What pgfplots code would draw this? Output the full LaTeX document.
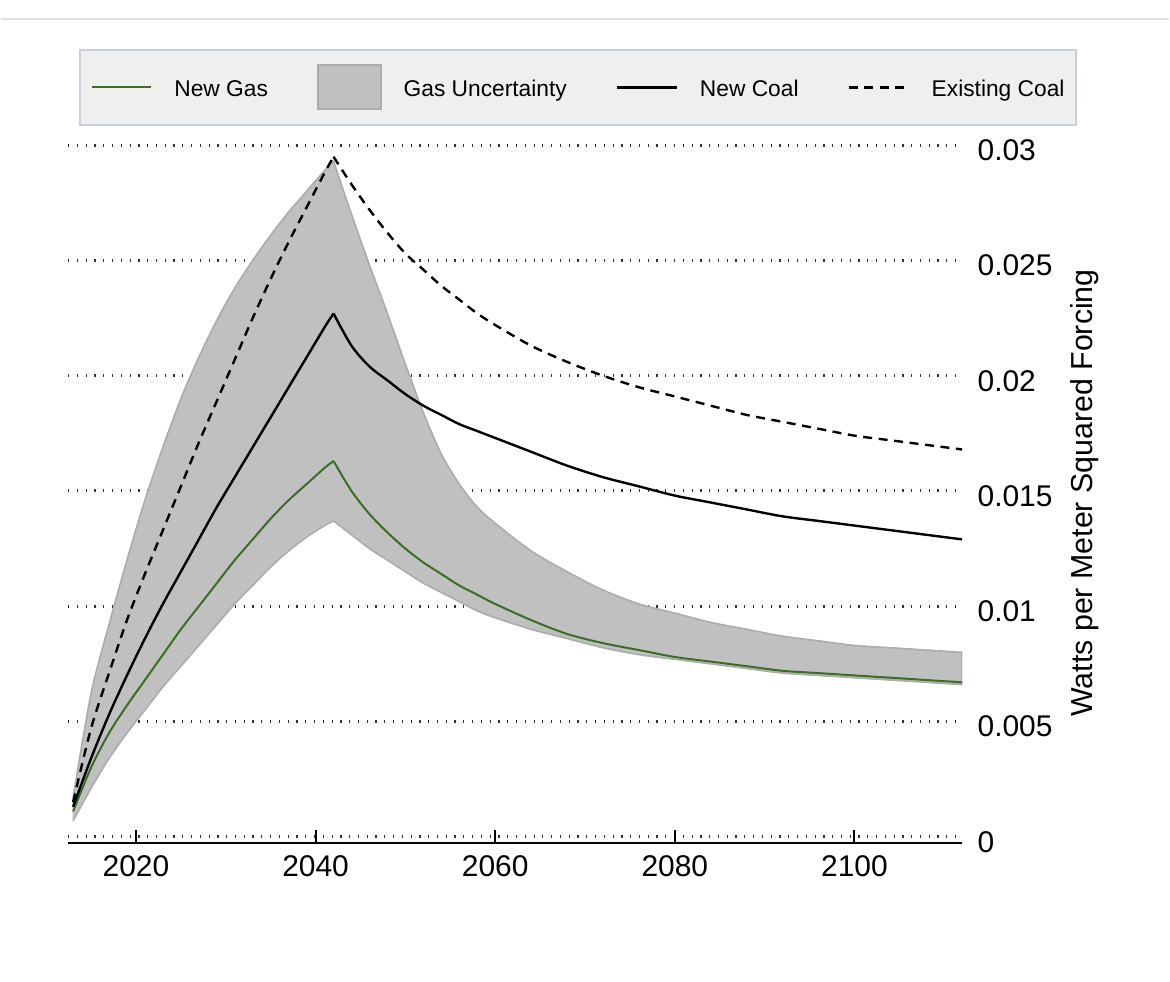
\documentclass[border=0pt]{standalone}
\usepackage{fontspec}
\setmainfont{Liberation Sans}
\usepackage{pgfplots}
\pgfplotsset{compat=1.18}
\usepackage{pgfplotstable}
\usepgfplotslibrary{fillbetween}

\definecolor{gasgreen}{RGB}{58,110,36}
\definecolor{bandfill}{RGB}{192,192,192}
\definecolor{bandedge}{RGB}{172,172,172}
\definecolor{legfill}{RGB}{239,239,240}
\definecolor{legedge}{RGB}{200,208,220}

\pgfplotsset{
  lineleg/.style={legend image code/.code={\draw[##1] (0pt,0pt) -- (30pt,0pt);}},
  boxleg/.style={legend image code/.code={\draw[##1] (0pt,-11pt) rectangle (31.5pt,11pt);}},
  rise/.style={smooth, restrict x to domain=2013:2042},
  fall/.style={smooth, restrict x to domain=2042:2112},
}
\newcommand{\leg}[1]{\raisebox{-1.5pt}[8pt][0pt]{#1}}

% gas uncertainty band, upper edge
\pgfplotstableread{
year val
2013 0.0017
2015 0.0062
2017 0.0092
2019 0.0120
2021 0.0146
2023 0.0169
2025 0.0190
2027 0.0208
2029 0.0224
2031 0.0238
2033 0.0250
2035 0.0261
2037 0.0271
2039 0.0280
2041 0.0289
2042 0.0293
2044 0.0270
2046 0.0248
2048 0.0227
2050 0.0205
2052 0.0184
2054 0.0166
2056 0.0153
2058 0.0143
2060 0.0136
2064 0.0124
2068 0.0115
2072 0.0107
2076 0.0101
2080 0.0097
2084 0.0093
2088 0.0090
2092 0.0087
2096 0.0085
2100 0.0083
2104 0.0082
2108 0.0081
2112 0.0080
}\bandup

% gas uncertainty band, lower edge
\pgfplotstableread{
year val
2013 0.0007
2015 0.0021
2017 0.0034
2019 0.0045
2021 0.0055
2023 0.0065
2025 0.0074
2027 0.0083
2029 0.0092
2031 0.0101
2033 0.0109
2035 0.0117
2037 0.0124
2039 0.0130
2041 0.0135
2042 0.0137
2044 0.0131
2046 0.0125
2048 0.0120
2050 0.0115
2052 0.0110
2054 0.0106
2056 0.0102
2058 0.0098
2060 0.0095
2064 0.0090
2068 0.0086
2072 0.0082
2076 0.0079
2080 0.0077
2084 0.0075
2088 0.0073
2092 0.0071
2096 0.0070
2100 0.0069
2104 0.0068
2108 0.0067
2112 0.0066
}\bandlo

% new gas
\pgfplotstableread{
year val
2013 0.0011
2015 0.0030
2017 0.0045
2019 0.0057
2021 0.0068
2023 0.0079
2025 0.0090
2027 0.0100
2029 0.0110
2031 0.0120
2033 0.0129
2035 0.0138
2037 0.0146
2039 0.0153
2041 0.0160
2042 0.0163
2044 0.0150
2046 0.0140
2048 0.0132
2050 0.0125
2052 0.0119
2054 0.0114
2056 0.0109
2058 0.0105
2060 0.0101
2064 0.0094
2068 0.0088
2072 0.0084
2076 0.0081
2080 0.0078
2084 0.0076
2088 0.0074
2092 0.0072
2096 0.0071
2100 0.0070
2104 0.0069
2108 0.0068
2112 0.0067
}\newgas

% new coal
\pgfplotstableread{
year val
2013 0.0013
2015 0.0034
2017 0.0053
2019 0.0070
2021 0.0086
2023 0.0101
2025 0.0115
2027 0.0129
2029 0.0143
2031 0.0156
2033 0.0169
2035 0.0182
2037 0.0195
2039 0.0208
2041 0.0221
2042 0.0227
2044 0.0213
2046 0.0204
2048 0.0198
2050 0.0192
2052 0.0187
2054 0.0183
2056 0.0179
2058 0.0176
2060 0.0173
2064 0.0167
2068 0.0161
2072 0.0156
2076 0.0152
2080 0.0148
2084 0.0145
2088 0.0142
2092 0.0139
2096 0.0137
2100 0.0135
2104 0.0133
2108 0.0131
2112 0.0129
}\newcoal

% existing coal
\pgfplotstableread{
year val
2013 0.0015
2015 0.0047
2017 0.0071
2019 0.0094
2021 0.0114
2023 0.0133
2025 0.0152
2027 0.0171
2029 0.0189
2031 0.0207
2033 0.0225
2035 0.0242
2037 0.0258
2039 0.0273
2041 0.0288
2042 0.0295
2044 0.0283
2046 0.0272
2048 0.0262
2050 0.0253
2052 0.0246
2054 0.0239
2056 0.0233
2058 0.0227
2060 0.0222
2064 0.0213
2068 0.0206
2072 0.0200
2076 0.0195
2080 0.0191
2084 0.0187
2088 0.0183
2092 0.0180
2096 0.0177
2100 0.0174
2104 0.0172
2108 0.0170
2112 0.0168
}\oldcoal

\begin{document}
\begin{tikzpicture}
\begin{axis}[
    name=ax,
    scale only axis,
    width=448pt, height=349.75pt,
    xmin=2012.44, xmax=2112,
    ymin=-0.000281, ymax=0.03,
    axis x line*=bottom, axis y line*=right,
    y axis line style={draw=none},
    x axis line style={black, line width=1pt},
    xtick={2020,2040,2060,2080,2100},
    xticklabels={2020,2040,2060,2080,2100},
    ytick={0,0.005,0.01,0.015,0.02,0.025,0.03},
    yticklabels={0,0.005,0.01,0.015,0.02,0.025,0.03},
    scaled y ticks=false,
    tick align=inside, major tick length=6.5pt,
    xtick style={black, line width=1pt},
    ytick style={draw=none},
    ymajorgrids,
    major grid style={black!80, line width=1.5pt, dash pattern=on 0.6pt off 3.8pt},
    yticklabel pos=right,
    ticklabel style={font=\fontsize{15}{18}\selectfont},
    xticklabel style={anchor=north, inner sep=0pt, yshift=-6.2pt},
    yticklabel style={anchor=west, inner sep=0pt, xshift=7.5pt, yshift=-2.5pt},
    ylabel={Watts per Meter Squared Forcing},
    ylabel style={font=\fontsize{15.2}{18}\selectfont, at={(axis description cs:1.1370,0.5018)}, anchor=center},
    legend columns=4,
    legend cell align=left,
    legend style={at={(0.5698,1.0829)}, anchor=center, draw=legedge, fill=legfill,
        line width=1pt, inner xsep=5.5pt, inner ysep=7.25pt, column sep=0pt,
        nodes={inner sep=0pt, font=\fontsize{11.4}{13}\selectfont}},
]
% band: rising and falling halves, each smoothed
\addplot[draw=none, rise, name path=upA, forget plot] table[x=year, y=val] {\bandup};
\addplot[draw=none, rise, name path=loA, forget plot] table[x=year, y=val] {\bandlo};
\addplot[draw=none, fall, name path=upB, forget plot] table[x=year, y=val] {\bandup};
\addplot[draw=none, fall, name path=loB, forget plot] table[x=year, y=val] {\bandlo};
\addplot[fill=bandfill, draw=bandfill, line width=0.4pt, forget plot] fill between[of=upA and loA];
\addplot[fill=bandfill, draw=bandfill, line width=0.4pt, forget plot] fill between[of=upB and loB];
\addplot[bandedge, line width=0.8pt, rise, forget plot] table[x=year, y=val] {\bandup};
\addplot[bandedge, line width=0.8pt, rise, forget plot] table[x=year, y=val] {\bandlo};
\addplot[bandedge, line width=0.8pt, fall, forget plot] table[x=year, y=val] {\bandup};
\addplot[bandedge, line width=0.8pt, fall, forget plot] table[x=year, y=val] {\bandlo};
\addplot[bandedge, line width=0.8pt, forget plot] coordinates {(2112,0.0066) (2112,0.0080)};

\addplot[gasgreen, line width=1pt, rise, forget plot] table[x=year, y=val] {\newgas};
\addplot[gasgreen, line width=1pt, fall, forget plot] table[x=year, y=val] {\newgas};
\addplot[black, line width=1.2pt, rise, forget plot] table[x=year, y=val] {\newcoal};
\addplot[black, line width=1.2pt, fall, forget plot] table[x=year, y=val] {\newcoal};
\addplot[black, line width=1.2pt, dash pattern=on 4.5pt off 3.3pt, rise, forget plot] table[x=year, y=val] {\oldcoal};
\addplot[black, line width=1.2pt, dash pattern=on 4.5pt off 3.3pt, fall, forget plot] table[x=year, y=val] {\oldcoal};

\addlegendimage{lineleg, gasgreen, line width=1pt}
\addlegendentry{\hspace*{11pt}\leg{New Gas}\hspace*{24.5pt}}
\addlegendimage{boxleg, fill=bandfill, draw=bandedge, line width=1pt}
\addlegendentry{\hspace*{11pt}\leg{Gas Uncertainty}\hspace*{24.5pt}}
\addlegendimage{lineleg, black, line width=1.2pt}
\addlegendentry{\hspace*{11pt}\leg{New Coal}\hspace*{24.5pt}}
\addlegendimage{lineleg, black, line width=1.2pt, dash pattern=on 4.5pt off 3.3pt}
\addlegendentry{\hspace*{11pt}\leg{Existing Coal}}
\end{axis}
\pgfresetboundingbox
\path ([xshift=-33.5pt,yshift=-69.5pt]ax.south west) rectangle ([xshift=551.5pt,yshift=422.5pt]ax.south west);
\draw[black!12, line width=1.2pt] ([xshift=-33.5pt,yshift=413pt]ax.south west) -- ([xshift=551.5pt,yshift=413pt]ax.south west);
\end{tikzpicture}
\end{document}
